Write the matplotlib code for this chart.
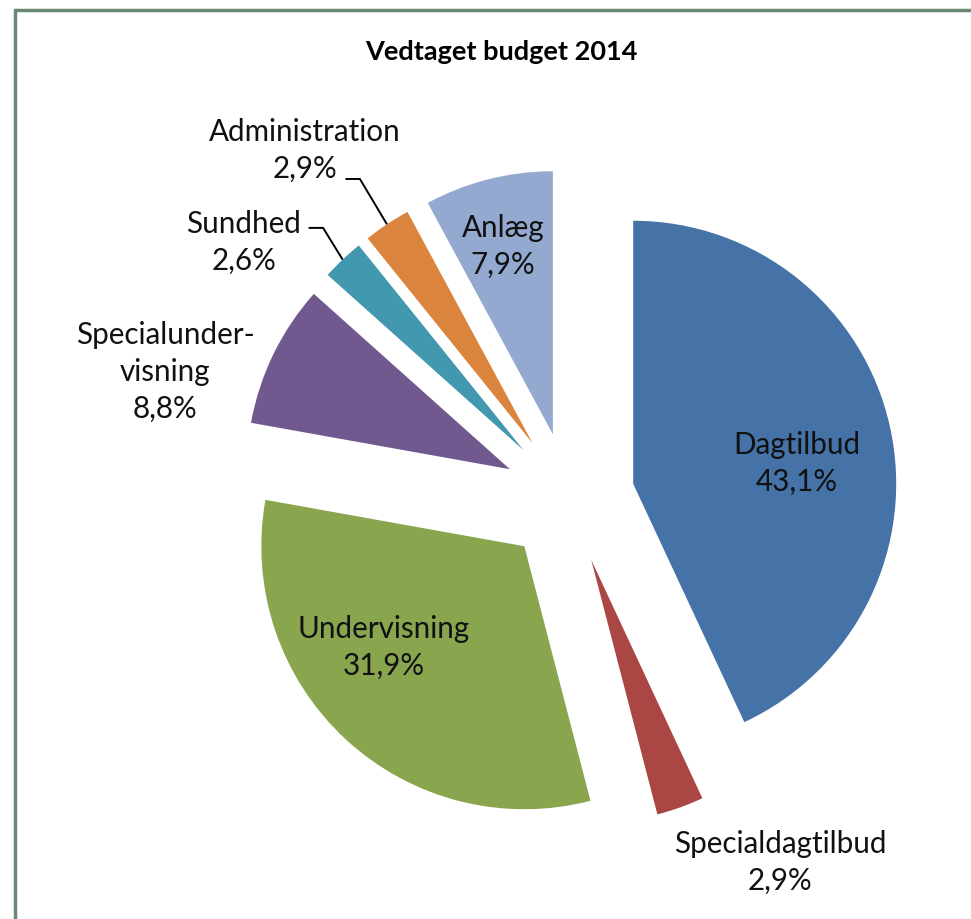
import matplotlib
matplotlib.use('Agg')
import matplotlib.pyplot as plt
import numpy as np
from matplotlib.patches import Rectangle

# Budget shares (percent), drawn clockwise from 12 o'clock
categories = ['Dagtilbud', 'Specialdagtilbud', 'Undervisning', 'Specialunder-\nvisning',
              'Sundhed', 'Administration', 'Anlæg']
shares = [43.1, 2.9, 31.9, 8.8, 2.6, 2.9, 7.9]
share_labels = ['43,1%', '2,9%', '31,9%', '8,8%', '2,6%', '2,9%', '7,9%']
colors = ['#4572A7', '#AA4643', '#89A54E', '#71588F', '#4198AF', '#DB843D', '#93A9CF']

# label positions (data units, pie radius = 1)
label_pos = [(0.867, 0.133), (0.802, -1.384), (-0.703, -0.567), (-1.536, 0.479),
             (-1.236, 0.973), (-1.004, 1.323), (-0.251, 0.958)]
leader_slices = {'Sundhed': (-0.99, 1.027), 'Administration': (-0.85, 1.213)}

W, H, dpi = 971, 919, 100
cx, cy, r = 569, 498, 263  # pie centre and radius in pixels

fig = plt.figure(figsize=(W / dpi, H / dpi), dpi=dpi)
fig.patch.set_facecolor('white')
ax = fig.add_axes([0, 0, 1, 1])

explode = [0.25] * len(shares)
wedges, _ = ax.pie(shares, explode=explode, colors=colors, startangle=90,
                   counterclock=False, radius=1,
                   wedgeprops=dict(linewidth=0, edgecolor='none'))

ax.set_xlim(-cx / r, (W - cx) / r)
ax.set_ylim((cy - H) / r, cy / r)
ax.set_aspect('auto')
ax.axis('off')

font = ['Lato', 'DejaVu Sans']
for i, name in enumerate(categories):
    x, y = label_pos[i]
    ax.text(x, y, name + '\n' + share_labels[i], ha='center', va='center',
            fontsize=21.3, family=font, linespacing=1.38, color='#111111')

# leader lines for the thin slices
for i, name in enumerate(categories):
    if name in leader_slices:
        w = wedges[i]
        mid = np.deg2rad((w.theta1 + w.theta2) / 2)
        ex, ey = w.center[0] + w.r * np.cos(mid), w.center[1] + w.r * np.sin(mid)
        sx, sy = leader_slices[name]
        ax.plot([sx, sx + 0.055, ex], [sy, sy, ey], color='black', lw=1.4,
                solid_capstyle='butt')

fig.text(501 / W, 1 - 52 / H, 'Vedtaget budget 2014', ha='center', va='center',
         fontsize=19.5, fontweight='bold', family=font)

# frame around the chart (runs off the right and bottom edges)
fig.patches.append(Rectangle((15 / W, -0.1), 1.2, 1 - 10 / H + 0.1,
                             transform=fig.transFigure, fill=False,
                             edgecolor='#6B8872', linewidth=2.5))

fig.savefig('out.png', dpi=dpi, facecolor='white')
